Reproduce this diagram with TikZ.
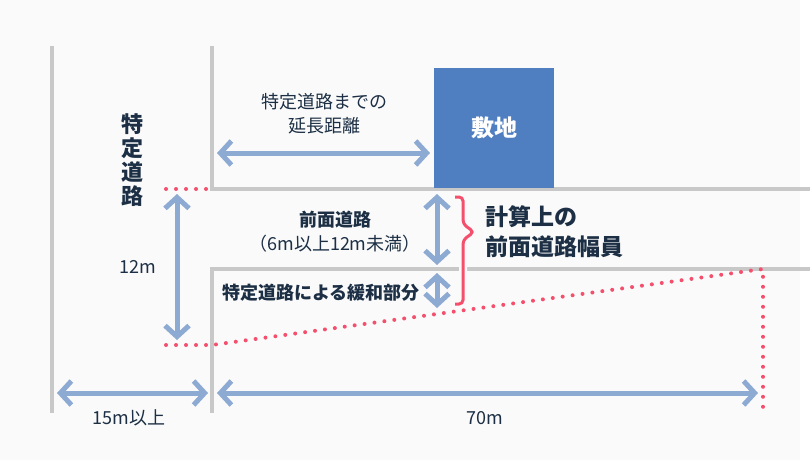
\documentclass[tikz,border=0pt]{standalone}
\usepackage{fontspec}
\setmainfont{Noto Sans CJK JP}
\usetikzlibrary{arrows.meta}
\definecolor{paper}{HTML}{FAFAFA}
\definecolor{roadgray}{HTML}{C8C8C8}
\definecolor{dimblue}{HTML}{8DAAD3}
\definecolor{siteblue}{HTML}{4F7FC0}
\definecolor{ink}{HTML}{1C2F44}
\definecolor{dotred}{HTML}{F4506E}
\tikzset{
  wall/.style={draw=roadgray, line width=4pt},
  dim/.style={draw=dimblue, line width=5pt,
    {Straight Barb[length=11pt,width=24pt]}-{Straight Barb[length=11pt,width=24pt]}},
  reddots/.style={draw=dotred, line width=4pt, line cap=round, dash pattern=on 0pt off 10pt},
  lbl/.style={text=ink, inner sep=0pt, font=\fontsize{18}{21}\selectfont},
  boldlbl/.style={text=ink, inner sep=0pt, font=\fontsize{18}{22}\selectfont\bfseries},
  biglbl/.style={text=ink, inner sep=0pt, align=left, font=\fontsize{23}{30}\selectfont\bfseries},
}
\begin{document}
\begin{tikzpicture}[x=1pt, y=-1pt]
\useasboundingbox (0,0) rectangle (810,460);
\fill[paper] (0,0) rectangle (800,460);

% roads
\coordinate (w1t) at (52,46);
\coordinate (w1b) at (52,413);
\coordinate (w2t) at (212,46);
\coordinate (c1) at (212,189);
\coordinate (e1) at (810,189);
\coordinate (c2) at (212,269);
\coordinate (e2) at (810,269);
\coordinate (w2b) at (212,413);
\draw[wall] (w1t) -- (w1b);
\draw[wall] (w2t) -- (c1) -- (e1);
\draw[wall] (e2) -- (c2) -- (w2b);

\node[fill=siteblue, text=white, minimum width=120pt, minimum height=120pt, inner sep=0pt,
  font=\fontsize{23}{26}\selectfont\bfseries] (site) at (494,128) {敷地};

% red dotted limits
\coordinate (d1) at (166,189);
\coordinate (d2) at (166,345);
\coordinate (d3) at (212,345);
\coordinate (d4) at (763,269);
\coordinate (d5) at (763,411);
\draw[reddots] (d1) -- (c1);
\draw[reddots] (d2) -- (d3) -- (d4) -- (d5);

% dimensions
\coordinate (a1) at (217,153);
\coordinate (a2) at (430,153);
\coordinate (a3) at (177,194);
\coordinate (a4) at (177,340);
\coordinate (a5) at (437,194);
\coordinate (a6) at (437,265);
\coordinate (a7) at (437,273);
\coordinate (a8) at (437,308);
\coordinate (a9) at (57,393);
\coordinate (a10) at (208,393);
\coordinate (a11) at (217,393);
\coordinate (a12) at (758,393);
\draw[dim] (a1) to (a2);
\draw[dim] (a3) to (a4);
\draw[dim] (a5) to (a6);
\draw[dim] (a7) to (a8);
\draw[dim] (a9) to (a10);
\draw[dim] (a11) to (a12);

% brace
\coordinate (b1) at (455,197);
\coordinate (b2) at (463,197);
\coordinate (b3) at (463,224);
\coordinate (b4) at (474,232);
\coordinate (b5) at (463,240);
\coordinate (b6) at (463,304);
\coordinate (b7) at (455,304);
\draw[paper, line width=8pt, rounded corners=4pt] (b2) -- (b3) -- (b4) -- (b5) -- (b6);
\draw[dotred, line width=3pt, rounded corners=4pt] (b1) -- (b2) -- (b3) -- (b4) -- (b5) -- (b6) -- (b7);

% texts
\node[lbl, align=center, font=\fontsize{18}{24}\selectfont] (dist) at (324,114) {特定道路までの\\延長距離};
\node[text=ink, inner sep=0pt, align=center, font=\fontsize{22}{24}\selectfont\bfseries] (spec) at (132,160) {特\\定\\道\\路};
\node[boldlbl] (front) at (335,220) {前面道路};
\node[lbl] (range) at (335,244) {（6m以上12m未満）};
\node[boldlbl] (ease) at (321,293) {特定道路による緩和部分};
\node[biglbl, anchor=west] (calc) at (485,232) {計算上の\\前面道路幅員};
\node[lbl] (h12) at (138,267) {12m};
\node[lbl] (w15) at (129,418) {15m以上};
\node[lbl] (w70) at (485,418) {70m};
\end{tikzpicture}
\end{document}
